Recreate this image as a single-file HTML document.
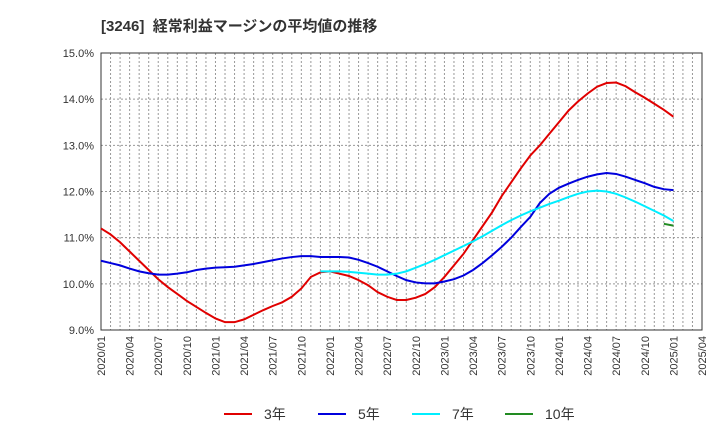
<!DOCTYPE html>
<html><head><meta charset="utf-8"><style>
body{margin:0;background:#fff;font-family:"Liberation Sans","Noto Sans CJK JP",sans-serif;}
</style></head><body>
<svg id="chart" width="720" height="440" xmlns="http://www.w3.org/2000/svg" font-family="Liberation Sans, Noto Sans CJK JP, sans-serif">
<text x="101" y="31" font-size="15" font-weight="bold" fill="#333">[3246]&#160;&#160;経常利益マージンの平均値の推移</text>
<g id="grid"></g><g id="axes"></g><g id="series"></g><g id="legend"></g>
</svg>
<script>
const xTickLabels=["2020/01","2020/04","2020/07","2020/10","2021/01","2021/04","2021/07","2021/10","2022/01","2022/04","2022/07","2022/10","2023/01","2023/04","2023/07","2023/10","2024/01","2024/04","2024/07","2024/10","2025/01","2025/04"];
const yTicks=[9,10,11,12,13,14,15];
const s3=[11.2,11.07,10.9,10.7,10.5,10.3,10.1,9.93,9.78,9.63,9.5,9.37,9.25,9.17,9.17,9.23,9.33,9.43,9.52,9.6,9.72,9.9,10.15,10.25,10.27,10.22,10.17,10.08,9.97,9.82,9.72,9.65,9.65,9.7,9.78,9.93,10.15,10.4,10.65,10.95,11.25,11.55,11.9,12.2,12.5,12.78,13.0,13.25,13.5,13.75,13.95,14.12,14.27,14.35,14.36,14.28,14.15,14.03,13.9,13.77,13.62];
const s5=[10.5,10.45,10.4,10.33,10.27,10.23,10.2,10.2,10.22,10.25,10.3,10.33,10.35,10.36,10.37,10.4,10.43,10.47,10.51,10.55,10.58,10.6,10.6,10.58,10.58,10.58,10.57,10.52,10.45,10.37,10.27,10.17,10.08,10.03,10.01,10.01,10.05,10.1,10.18,10.3,10.45,10.62,10.8,11.0,11.23,11.45,11.75,11.95,12.08,12.17,12.25,12.32,12.37,12.4,12.38,12.32,12.25,12.18,12.1,12.05,12.03];
const s7Start=23;
const s7=[10.27,10.27,10.27,10.26,10.24,10.22,10.2,10.2,10.22,10.27,10.35,10.43,10.52,10.62,10.72,10.82,10.92,11.03,11.15,11.27,11.38,11.48,11.57,11.65,11.73,11.8,11.88,11.95,12.0,12.02,12.0,11.95,11.87,11.78,11.68,11.58,11.48,11.36];
const s10Start=59;
const s10=[11.3,11.26];
const NS="http://www.w3.org/2000/svg";
const L=101,R=702,T=53,B=330;
const xS=m=>L+m*(R-L)/63;
const yS=v=>B-(v-9)*(B-T)/6;
function mk(tag,attrs,parent){const e=document.createElementNS(NS,tag);for(const k in attrs)e.setAttribute(k,attrs[k]);parent.appendChild(e);return e;}
const grid=document.getElementById('grid'),axes=document.getElementById('axes'),ser=document.getElementById('series'),leg=document.getElementById('legend');
for(let m=1;m<63;m++){const l=mk('line',{x1:xS(m),x2:xS(m),y1:T,y2:B,stroke:'#999','stroke-dasharray':'2,2','stroke-width':1},grid);

}
yTicks.forEach(v=>{if(v>9&&v<15){const l=mk('line',{x1:L,x2:R,y1:yS(v),y2:yS(v),stroke:'#999','stroke-dasharray':'2,2'},grid);

}
const t=mk('text',{x:L-7,y:yS(v)+4,'text-anchor':'end','font-size':11,fill:'#333'},axes);t.textContent=v.toFixed(1)+'%';

});
const fr=mk('rect',{x:L,y:T,width:R-L,height:B-T,fill:'none',stroke:'#333'},axes);


xTickLabels.forEach((s,i)=>{const x=xS(i*3);const t=mk('text',{transform:`translate(${x+4},${B+6}) rotate(-90)`,'text-anchor':'end','font-size':11,fill:'#333'},axes);t.textContent=s;

});
function line(arr,start,color,name){const p=mk('polyline',{points:arr.map((v,i)=>xS(start+i)+','+yS(v)).join(' '),fill:'none',stroke:color,'stroke-width':2},ser);

}
line(s3,0,'#e00000','series-3yr');
line(s5,0,'#0000dd','series-5yr');
line(s7,s7Start,'#00eeff','series-7yr');
line(s10,s10Start,'#228b22','series-10yr');
[['3年','#e00000',224],['5年','#0000dd',318],['7年','#00eeff',412],['10年','#228b22',505]].forEach(([n,c,x])=>{
const g=mk('g',{},leg);


mk('line',{x1:x,x2:x+28,y1:414,y2:414,stroke:c,'stroke-width':2},g);
const t=mk('text',{x:x+40,y:419,'font-size':14,fill:'#333'},g);t.textContent=n;});
</script>
</body></html>
